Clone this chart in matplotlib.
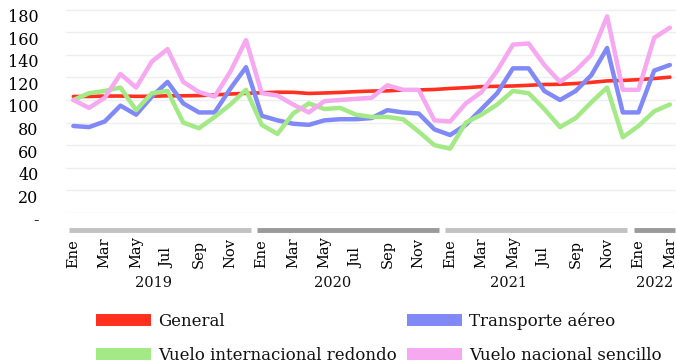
import matplotlib
matplotlib.use("Agg")
import matplotlib.pyplot as plt
import matplotlib.transforms as mtransforms
from matplotlib import font_manager
from matplotlib.lines import Line2D

# monthly price indices, Jan 2019 - Mar 2022
month_names = ["Ene", "Feb", "Mar", "Abr", "May", "Jun",
               "Jul", "Ago", "Sep", "Oct", "Nov", "Dic"]
years = [2019, 2020, 2021, 2022]
months_per_year = [12, 12, 12, 3]

general = [103.1, 103.1, 103.5, 103.5, 103.2, 103.3, 103.7, 103.7, 103.9, 104.5, 105.3, 105.9,
           106.4, 106.9, 106.8, 105.8, 106.2, 106.7, 107.4, 107.9, 108.1, 108.8, 108.9, 109.3,
           110.2, 110.9, 111.8, 112.1, 112.4, 113.0, 113.7, 113.9, 114.6, 115.6, 116.9, 117.3,
           118.0, 119.0, 120.2]
transporte_aereo = [77, 76, 81, 95, 87, 103, 116, 97, 89, 89, 110, 129,
                    86, 82, 79, 78, 82, 83, 83, 84, 91, 89, 88, 74,
                    69, 78, 92, 106, 128, 128, 108, 100, 108, 122, 146, 89,
                    89, 126, 131]
vuelo_internacional = [100, 106, 108, 111, 91, 106, 108, 80, 75, 85, 96, 109,
                       78, 70, 88, 97, 92, 93, 87, 85, 85, 83, 72, 60,
                       57, 80, 87, 96, 108, 106, 92, 76, 84, 98, 111, 67,
                       77, 90, 96]
vuelo_nacional = [100, 93, 102, 123, 111, 134, 145, 116, 107, 103, 125, 153,
                  106, 104, 96, 89, 99, 100, 101, 102, 113, 109, 109, 82,
                  81, 97, 107, 126, 149, 150, 131, 116, 126, 140, 174, 109,
                  109, 155, 164]

series = [
    ("General", general, "#ff3020", 2.6),
    ("Transporte aéreo", transporte_aereo, "#8089f6", 3.2),
    ("Vuelo internacional redondo", vuelo_internacional, "#a3ea86", 3.2),
    ("Vuelo nacional sencillo", vuelo_nacional, "#f6a8f0", 3.2),
]

installed = {f.name for f in font_manager.fontManager.ttflist}
family = ["DejaVu Serif Condensed", "DejaVu Serif"] if "DejaVu Serif Condensed" in installed else ["DejaVu Serif"]
plt.rcParams["font.family"] = family
plt.rcParams["text.color"] = "#111111"

fig = plt.figure(figsize=(6.76, 3.63), dpi=100)
W, H = 676, 363
ax = fig.add_axes([65.5 / W, 1 - 213 / H, (W - 65.5) / W, 205 / H])

x = list(range(len(general)))
for name, vals, color, lw in series:
    ax.plot(x, vals, color=color, lw=lw, solid_joinstyle="round", solid_capstyle="round", label=name)

ax.set_xlim(-0.5, 38.39)
ax.set_ylim(0, 181.4)

for s in ax.spines.values():
    s.set_visible(False)
ax.set_yticks(range(0, 181, 20))
ax.set_yticklabels(["-" if v == 0 else str(v) for v in range(0, 181, 20)])
ax.grid(axis="y", color="#eeeeee", lw=1)
ax.set_axisbelow(True)
ax.tick_params(axis="y", length=0, pad=19.5, labelsize=11.5)

# month labels every two months, read bottom-to-top under the plot
tick_pos = x[::2]
ax.set_xticks(tick_pos)
ax.set_xticklabels([month_names[i % 12] for i in tick_pos], rotation=90)
ax.tick_params(axis="x", length=0, pad=39.5, labelsize=10.5)
for lbl in ax.get_xticklabels():
    lbl.set_va("bottom")

down = mtransforms.ScaledTranslation(0, -0.06, fig.dpi_scale_trans)
for lbl in ax.get_yticklabels():
    lbl.set_transform(lbl.get_transform() + down)

# year brackets and year labels
trans = mtransforms.blended_transform_factory(ax.transData, ax.transAxes)
bar_colors = ["#c2c2c2", "#9a9a9a", "#c2c2c2", "#9a9a9a"]
year_label_pos = [5.1, 16.5, 27.7, 37.0]
start = 0
for yr, n, bc, lx in zip(years, months_per_year, bar_colors, year_label_pos):
    ax.plot([start - 0.3, start + n - 0.7], [-0.083, -0.083], transform=trans,
            color=bc, lw=3.5, solid_capstyle="butt", clip_on=False)
    ax.text(lx, -0.341, str(yr), transform=trans, ha="center", va="center", fontsize=10.5)
    start += n

handles = [Line2D([], [], color=c, lw=8.6, solid_capstyle="butt") for _, _, c, _ in series]
names = [s[0] for s in series]
order = [0, 2, 1, 3]
fig.legend([handles[i] for i in order], [names[i] for i in order], ncol=2,
           loc="upper left", bbox_to_anchor=(96 / W, 1 - 312 / H), frameon=False,
           fontsize=12, handlelength=3.3, handletextpad=0.42, columnspacing=0.6,
           labelspacing=1.05, borderpad=0, borderaxespad=0)

fig.savefig("out.png", dpi=100)
